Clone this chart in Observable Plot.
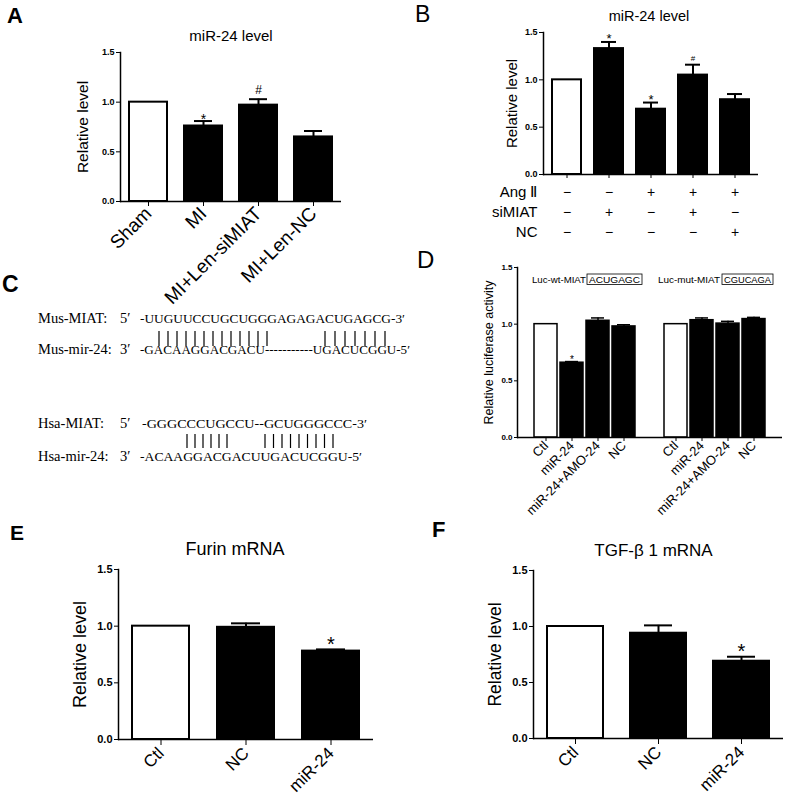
<!DOCTYPE html>
<html><head><meta charset="utf-8">
<script src="https://cdn.jsdelivr.net/npm/d3@7"></script>
<script src="https://cdn.jsdelivr.net/npm/@observablehq/plot@0.6"></script>
<style>
body{margin:0;background:#fff;}
#fig{position:relative;width:787px;height:807px;overflow:hidden;font-family:"Liberation Sans",Arial,sans-serif;color:#000;background:#fff;}
.panel{position:absolute;}
</style></head><body><div id="fig"></div>
<script>
// ---------- Data ----------
const yTicks = [0, 0.5, 1.0, 1.5];

// Panel A
const aCategories = ["Sham", "MI", "MI+Len-siMIAT", "MI+Len-NC"];
const aValues = [1.00, 0.76, 0.97, 0.65];
const aErrors = [0, 0.05, 0.06, 0.06];
const aMarks = ["", "*", "#", ""];

// Panel B
const bFactorNames = ["Ang Ⅱ", "siMIAT", "NC"];
const bAngII = ["−", "−", "+", "+", "+"];
const bSiMIAT = ["−", "+", "−", "+", "−"];
const bNC = ["−", "−", "−", "−", "+"];
const bValues = [1.00, 1.33, 0.69, 1.05, 0.79];
const bErrors = [0, 0.07, 0.07, 0.11, 0.06];
const bMarks = ["", "*", "*", "#", ""];

// Panel C
const cLabels = ["Mus-MIAT:", "Mus-mir-24:", "Hsa-MIAT:", "Hsa-mir-24:"];
const cEnds = ["5′", "3′", "5′", "3′"];
const cSequences = [
  "-UUGUUCCUGCUGGGAGAGACUGAGCG-3′",
  "-GACAAGGACGACU-----------UGACUCGGU-5′",
  "-GGGCCCUGCCU--GCUGGGCCC-3′",
  "-ACAAGGACGACUUGACUCGGU-5′"
];
const cPairCounts = [13, 7, 6, 9];

// Panel D
const dCategories = ["Ctl", "miR-24", "miR-24+AMO-24", "NC"];
const dGroups = ["wt", "mut"];
const dGroupLabels = ["Luc-wt-MIAT", "Luc-mut-MIAT"];
const dGroupSeqs = ["ACUGAGC", "CGUCAGA"];
const dWtValues = [1.00, 0.66, 1.03, 0.98];
const dWtErrors = [0, 0.01, 0.025, 0.015];
const dWtMarks = ["", "*", "", ""];
const dMutValues = [1.00, 1.035, 1.005, 1.045];
const dMutErrors = [0, 0.02, 0.02, 0.015];
const dMutMarks = ["", "", "", ""];

// Panel E
const eCategories = ["Ctl", "NC", "miR-24"];
const eValues = [1.00, 0.99, 0.78];
const eErrors = [0, 0.035, 0.015];
const eMarks = ["", "", "*"];

// Panel F
const fCategories = ["Ctl", "NC", "miR-24"];
const fValues = [1.00, 0.94, 0.69];
const fErrors = [0, 0.07, 0.04];
const fMarks = ["", "", "*"];

// ---------- Helpers ----------
const FONT = "'Liberation Sans', Arial, sans-serif";
const fig = d3.select("#fig");

function rows(keys, vals, errs, marks, ctrlKeys) {
  return keys.map((k, i) => ({key: k, v: vals[i], e: errs[i], m: marks[i], ctrl: ctrlKeys.includes(k)}));
}

function barMarks(data, o) {
  const withErr = data.filter(d => d.e > 0);
  return [
    Plot.barY(data, {x: "key", y: "v", fill: d => d.ctrl ? "white" : "black", stroke: "black", strokeWidth: o.sw}),
    Plot.ruleX(withErr, {x: "key", y1: "v", y2: d => d.v + d.e, strokeWidth: o.sw}),
    Plot.tickY(withErr, {x: "key", y: d => d.v + d.e, strokeWidth: o.sw, insetLeft: o.cap, insetRight: o.cap}),
    Plot.text(data.filter(d => d.m === "*"), {x: "key", y: d => d.v + d.e, text: "m", dy: o.starDy, fontSize: o.starSize}),
    Plot.text(data.filter(d => d.m === "#"), {x: "key", y: d => d.v + d.e, text: "m", dy: o.hashDy, fontSize: o.hashSize}),
    Plot.ruleY([0], {strokeWidth: 1.5}),
    Plot.frame({anchor: "left", strokeWidth: 1.5})
  ];
}

function yLabel(t, dx, size) {
  return Plot.text([t], {text: d => d, frameAnchor: "left", textAnchor: "middle", rotate: -90, dx, fontSize: size});
}
function title(t, dx, dy, size) {
  return Plot.text([t], {text: d => d, frameAnchor: "top", textAnchor: "middle", dx, dy, fontSize: size});
}

function place(svg, left, top, width) {
  const div = fig.append("div").attr("class", "panel").style("left", left + "px").style("top", top + "px").style("width", width + "px");
  div.node().appendChild(svg);
}

const baseStyle = {fontFamily: FONT, background: "transparent", overflow: "visible", color: "black"};

// ---------- Panel A ----------
{
  const data = rows(aCategories, aValues, aErrors, aMarks, ["Sham"]);
  const svg = Plot.plot({
    width: 400, height: 270, marginLeft: 120, marginRight: 59, marginTop: 52, marginBottom: 69,
    style: baseStyle,
    x: {type: "band", domain: aCategories, paddingInner: 0.31, paddingOuter: 0.15},
    y: {domain: [0, 1.5]},
    marks: [
      ...barMarks(data, {sw: 2, cap: 10, starDy: -2, starSize: 14, hashDy: -9, hashSize: 12}),
      Plot.axisY({ticks: yTicks, tickFormat: ".1f", tickSize: 4, tickPadding: 2, fontSize: 9, fontWeight: "bold", label: null}),
      Plot.axisX({tickSize: 5, tickPadding: 4, tickRotate: -45, fontSize: 19, label: null}),
      yLabel("Relative level", -37, 15.5),
      title("miR-24 level", 0, -22, 15)
    ]
  });
  place(svg, 0, 0, 400);
}

// ---------- Panel B ----------
const bKeys = bAngII.map((a, i) => a + bSiMIAT[i] + bNC[i]);
{
  const data = rows(bKeys, bValues, bErrors, bMarks, [bKeys[0]]);
  const svg = Plot.plot({
    width: 387, height: 180, marginLeft: 143, marginRight: 29, marginTop: 32, marginBottom: 6,
    style: baseStyle,
    x: {type: "band", domain: bKeys, paddingInner: 0.31, paddingOuter: 0.21},
    y: {domain: [0, 1.5]},
    marks: [
      ...barMarks(data, {sw: 2, cap: 7, starDy: -3, starSize: 13, hashDy: -6, hashSize: 8}),
      Plot.axisY({ticks: yTicks, tickFormat: ".1f", tickSize: 4, tickPadding: 2, fontSize: 9, fontWeight: "bold", label: null}),
      Plot.axisX({tickSize: 4, tickFormat: () => "", label: null}),
      yLabel("Relative level", -31, 15),
      title("miR-24 level", -2, -22, 14.5)
    ]
  });
  place(svg, 400, 0, 387);

  const factorSigns = [bAngII, bSiMIAT, bNC];
  const cells = bFactorNames.flatMap((f, j) => factorSigns[j].map((s, i) => ({f, key: bKeys[i], s})));
  const table = Plot.plot({
    width: 387, height: 60, marginLeft: 143, marginRight: 29, marginTop: 11, marginBottom: 8,
    style: baseStyle,
    x: {type: "band", domain: bKeys, paddingInner: 0.31, paddingOuter: 0.21, axis: null},
    y: {type: "point", domain: bFactorNames, padding: 0},
    marks: [
      Plot.text(cells, {x: "key", y: "f", text: "s", fontSize: 14}),
      Plot.axisY({tickSize: 0, tickPadding: 6, fontSize: 15, label: null})
    ]
  });
  place(table, 400, 180, 387);
}

// ---------- Panel D ----------
{
  const wtKeys = dCategories.map(c => dGroups[0] + ":" + c);
  const mutKeys = dCategories.map(c => dGroups[1] + ":" + c);
  const keys = [...wtKeys, "gap", ...mutKeys];
  const ctrl = [wtKeys[0], mutKeys[0]];
  const data = [
    ...rows(wtKeys, dWtValues, dWtErrors, dWtMarks, ctrl),
    ...rows(mutKeys, dMutValues, dMutErrors, dMutMarks, ctrl)
  ];
  const svg = Plot.plot({
    width: 387, height: 220, marginLeft: 117, marginRight: 5, marginTop: 17, marginBottom: 33,
    style: baseStyle,
    x: {type: "band", domain: keys, paddingInner: 0.13, paddingOuter: 0.565},
    y: {domain: [0, 1.5]},
    marks: [
      ...barMarks(data, {sw: 1.5, cap: 5, starDy: -2, starSize: 10, hashDy: -6, hashSize: 8}),
      Plot.axisY({ticks: yTicks, tickFormat: ".1f", tickSize: 3, tickPadding: 2, fontSize: 8, fontWeight: "bold", label: null}),
      Plot.axisX({ticks: [...wtKeys, ...mutKeys], tickFormat: k => k.split(":")[1], tickSize: 4, tickPadding: 2, tickRotate: -45, fontSize: 13, label: null}),
      yLabel("Relative luciferase activity", -29, 12.5)
    ]
  });
  place(svg, 400, 250, 387);
}

// ---------- Panel E ----------
{
  const data = rows(eCategories, eValues, eErrors, eMarks, ["Ctl"]);
  const svg = Plot.plot({
    width: 400, height: 307, marginLeft: 118, marginRight: 27, marginTop: 69, marginBottom: 68,
    style: baseStyle,
    x: {type: "band", domain: eCategories, paddingInner: 0.33, paddingOuter: 0.165},
    y: {domain: [0, 1.5]},
    marks: [
      ...barMarks(data, {sw: 2, cap: 14, starDy: -5, starSize: 20, hashDy: -9, hashSize: 14}),
      Plot.axisY({ticks: yTicks, tickFormat: ".1f", tickSize: 4, tickPadding: 2, fontSize: 11, fontWeight: "bold", label: null}),
      Plot.axisX({tickSize: 6, tickPadding: 5, tickRotate: -45, fontSize: 17, label: null}),
      yLabel("Relative level", -38, 18),
      title("Furin mRNA", -11, -27, 18)
    ]
  });
  place(svg, 0, 500, 400);
}

// ---------- Panel F ----------
{
  const data = rows(fCategories, fValues, fErrors, fMarks, ["Ctl"]);
  const svg = Plot.plot({
    width: 387, height: 307, marginLeft: 133, marginRight: 4, marginTop: 70, marginBottom: 69,
    style: baseStyle,
    x: {type: "band", domain: fCategories, paddingInner: 0.33, paddingOuter: 0.17},
    y: {domain: [0, 1.5]},
    marks: [
      ...barMarks(data, {sw: 2, cap: 14, starDy: -5, starSize: 20, hashDy: -9, hashSize: 14}),
      Plot.axisY({ticks: yTicks, tickFormat: ".1f", tickSize: 4, tickPadding: 2, fontSize: 11, fontWeight: "bold", label: null}),
      Plot.axisX({tickSize: 6, tickPadding: 5, tickRotate: -45, fontSize: 17, label: null}),
      yLabel("Relative level", -38, 17.5),
      title("TGF-β 1 mRNA", -5, -27, 17)
    ]
  });
  place(svg, 400, 500, 387);
}

// ---------- Overlay: panel letters, panel C, D annotations ----------
const ov = fig.append("svg").attr("width", 787).attr("height", 807)
  .style("position", "absolute").style("left", "0px").style("top", "0px").style("pointer-events", "none");

const letters = [
  {t: "A", x: 7, y: 23, s: 22, w: "bold"},
  {t: "B", x: 415, y: 22, s: 23, w: "normal"},
  {t: "C", x: 2, y: 292, s: 23, w: "bold"},
  {t: "D", x: 417, y: 268, s: 24, w: "normal"},
  {t: "E", x: 10, y: 540, s: 21, w: "bold"},
  {t: "F", x: 432, y: 537, s: 22, w: "bold"}
];
ov.selectAll("text.letter").data(letters).join("text").attr("class", "letter")
  .attr("x", d => d.x).attr("y", d => d.y).attr("font-size", d => d.s).attr("font-weight", d => d.w)
  .attr("font-family", FONT).text(d => d.t);

// Panel C
const SERIF = "'Liberation Serif', 'Times New Roman', serif";
const cBaselines = [323, 354, 428, 461];
const cSeqX = [140, 140, 142, 140];
const cSeqLen = [265, 270, 225, 222];
const gC = ov.append("g").attr("font-family", SERIF).attr("font-size", 14.5);
cLabels.forEach((lab, i) => {
  gC.append("text").attr("x", 38).attr("y", cBaselines[i]).text(lab);
  gC.append("text").attr("x", 120).attr("y", cBaselines[i]).text(cEnds[i]);
  gC.append("text").attr("x", cSeqX[i]).attr("y", cBaselines[i]).attr("font-size", 13.5)
    .attr("textLength", cSeqLen[i]).attr("lengthAdjust", "spacingAndGlyphs").text(cSequences[i]);
});
// base-pairing strokes
const pipeGroups = [
  {n: cPairCounts[0], x0: 159, x1: 267, y0: 331, y1: 346},
  {n: cPairCounts[1], x0: 325, x1: 385, y0: 331, y1: 346},
  {n: cPairCounts[2], x0: 187, x1: 227, y0: 434, y1: 448},
  {n: cPairCounts[3], x0: 265, x1: 333, y0: 434, y1: 448}
];
pipeGroups.forEach(p => {
  const xs = d3.range(p.n).map(i => p.x0 + (p.x1 - p.x0) * i / (p.n - 1));
  gC.append("g").selectAll("line").data(xs).join("line")
    .attr("x1", d => d).attr("x2", d => d).attr("y1", p.y0).attr("y2", p.y1)
    .attr("stroke", "black").attr("stroke-width", 1.2);
});

// Panel D annotations
const dAnn = [
  {x: 532, len: 54, bx: 587, bw: 55},
  {x: 658, len: 62, bx: 722, bw: 51}
];
dAnn.forEach((a, i) => {
  ov.append("text").attr("x", a.x).attr("y", 283).attr("font-family", FONT).attr("font-size", 9.5)
    .attr("textLength", a.len).attr("lengthAdjust", "spacingAndGlyphs").text(dGroupLabels[i]);
  ov.append("rect").attr("x", a.bx).attr("y", 274).attr("width", a.bw).attr("height", 10.5)
    .attr("fill", "none").attr("stroke", "black").attr("stroke-width", 0.8);
  ov.append("text").attr("x", a.bx + 2).attr("y", 283).attr("font-family", FONT).attr("font-size", 9.5)
    .attr("textLength", a.bw - 4).attr("lengthAdjust", "spacingAndGlyphs").text(dGroupSeqs[i]);
});
</script></body></html>
